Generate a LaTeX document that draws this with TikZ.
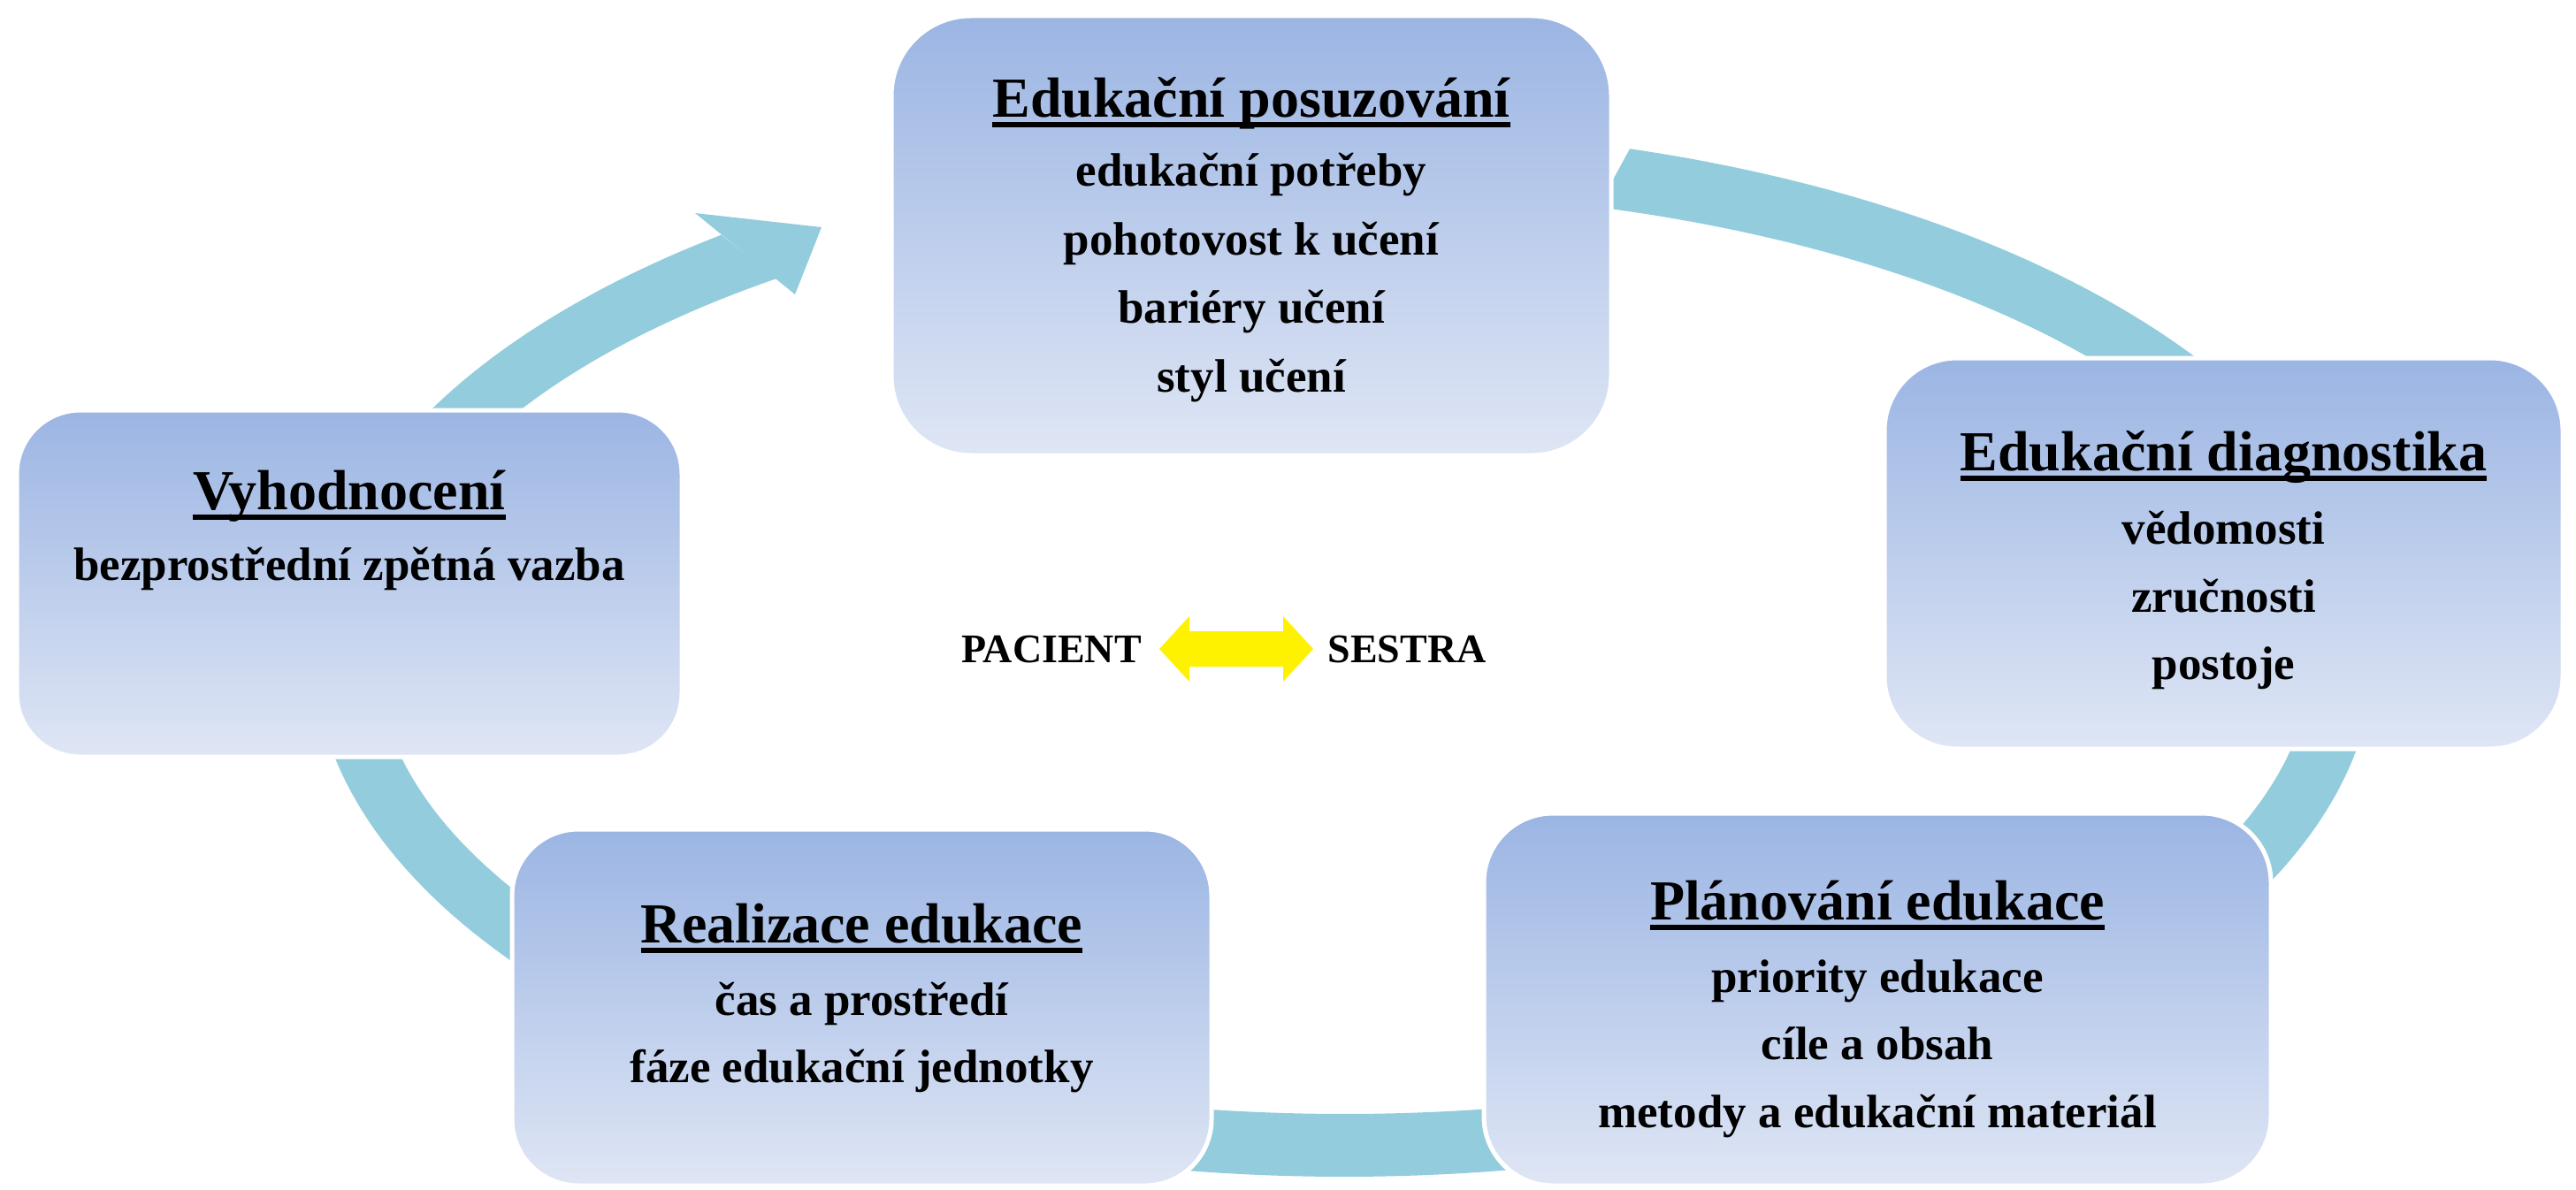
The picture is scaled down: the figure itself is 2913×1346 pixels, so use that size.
\documentclass[tikz,border=0pt]{standalone}
\usepackage{fontspec}
\setmainfont{Liberation Serif}
\definecolor{ringc}{HTML}{93CDDD}
\definecolor{boxtop}{HTML}{9BB5E3}
\definecolor{boxbot}{HTML}{DFE6F5}
\newcommand\ulttl[1]{\setbox0\hbox{#1}\rlap{\rule[-0.186em]{\wd0}{0.086em}}\box0}
\def\ecx{1520}\def\ecy{738}
\def\eAo{1165}\def\eBo{593}
\def\eAi{1095}\def\eBi{522}
\tikzset{
  stagebox/.style={rectangle, rounded corners=#1, draw=white, line width=5pt,
    top color=boxtop, bottom color=boxbot, inner sep=0pt, outer sep=0pt},
  ttl/.style={font=\fontsize{64}{64}\selectfont\bfseries, inner sep=0pt, anchor=base},
  itm/.style={font=\fontsize{53}{53}\selectfont\bfseries, inner sep=0pt, anchor=base},
  side/.style={font=\fontsize{46}{46}\selectfont\bfseries, inner sep=0pt, anchor=base},
  ring/.style={fill=ringc},
  dblarrow/.style={fill=yellow}
}
\begin{document}
\begin{tikzpicture}[x=1pt,y=-1pt]
\useasboundingbox (0,0) rectangle (2913,1346);
\fill[white] (0,0) rectangle (2913,1346);

% ring segments
\fill[ring] plot[domain=-73.9:-28, samples=60] ({\ecx+\eAo*cos(\x)},{\ecy+\eBo*sin(\x)})
  -- plot[domain=-28:-74.8, samples=60] ({\ecx+\eAi*cos(\x)},{\ecy+\eBi*sin(\x)}) -- cycle;
\fill[ring] plot[domain=-15:32, samples=60] ({\ecx+\eAo*cos(\x)},{\ecy+\eBo*sin(\x)})
  -- plot[domain=32:-15, samples=60] ({\ecx+\eAi*cos(\x)},{\ecy+\eBi*sin(\x)}) -- cycle;
\fill[ring] plot[domain=68:112, samples=60] ({\ecx+\eAo*cos(\x)},{\ecy+\eBo*sin(\x)})
  -- plot[domain=112:68, samples=60] ({\ecx+\eAi*cos(\x)},{\ecy+\eBi*sin(\x)}) -- cycle;
\fill[ring] plot[domain=125:192, samples=60] ({\ecx+\eAo*cos(\x)},{\ecy+\eBo*sin(\x)})
  -- plot[domain=192:125, samples=60] ({\ecx+\eAi*cos(\x)},{\ecy+\eBi*sin(\x)}) -- cycle;
\fill[ring] plot[domain=200:232.8, samples=60] ({\ecx+\eAo*cos(\x)},{\ecy+\eBo*sin(\x)})
  -- plot[domain=234.1:200, samples=60] ({\ecx+\eAi*cos(\x)},{\ecy+\eBi*sin(\x)}) -- cycle;
% arrow head
\coordinate (hb1) at (786,241);
\coordinate (htip) at (929,257);
\coordinate (hb2) at (899,333);
\fill[ring] (hb1) -- (htip) -- (hb2) -- cycle;

% boxes
\node[stagebox=90pt, minimum width=814pt, minimum height=497pt] (posuz) at (1415,266.5) {};
\node[stagebox=82pt, minimum width=767pt, minimum height=442pt] (diag) at (2514.5,626) {};
\node[stagebox=78pt, minimum width=890pt, minimum height=421pt] (plan) at (2123,1130.5) {};
\node[stagebox=75pt, minimum width=791pt, minimum height=403pt] (real) at (974.5,1139.5) {};
\node[stagebox=72pt, minimum width=752pt, minimum height=392pt] (vyh) at (395,660) {};

% texts: Edukacni posuzovani
\node[ttl] (posuzT) at (1415,132) {\ulttl{Edukační posuzování}};
\node[itm] (posuz1) at (1415,210) {edukační potřeby};
\node[itm] (posuz2) at (1415,288) {pohotovost k učení};
\node[itm] (posuz3) at (1415,365) {bariéry učení};
\node[itm] (posuz4) at (1415,443) {styl učení};
% diagnostika
\node[ttl] (diagT) at (2514.5,532) {\ulttl{Edukační diagnostika}};
\node[itm] (diag1) at (2514.5,615) {vědomosti};
\node[itm] (diag2) at (2514.5,692) {zručnosti};
\node[itm] (diag3) at (2514.5,768) {postoje};
% planovani
\node[ttl] (planT) at (2123,1040) {\ulttl{Plánování edukace}};
\node[itm] (plan1) at (2123,1122) {priority edukace};
\node[itm] (plan2) at (2123,1198) {cíle a obsah};
\node[itm] (plan3) at (2123,1275) {metody a edukační materiál};
% realizace
\node[ttl] (realT) at (974.5,1066) {\ulttl{Realizace edukace}};
\node[itm] (real1) at (974.5,1148) {čas a prostředí};
\node[itm] (real2) at (974.5,1224) {fáze edukační jednotky};
% vyhodnoceni
\node[ttl] (vyhT) at (395,576) {\ulttl{Vyhodnocení}};
\node[itm] (vyh1) at (395,656) {bezprostřední zpětná vazba};

% pacient - sestra
\node[side] (pac) at (1189,749) {PACIENT};
\node[side] (ses) at (1591,749) {SESTRA};
\coordinate (dl) at (1311,734);
\fill[dblarrow] (dl) -- ++(34,-37) -- ++(0,17) -- ++(106,0) -- ++(0,-17)
  -- ++(34,37) -- ++(-34,37) -- ++(0,-17) -- ++(-106,0) -- ++(0,17) -- cycle;
\end{tikzpicture}
\end{document}
